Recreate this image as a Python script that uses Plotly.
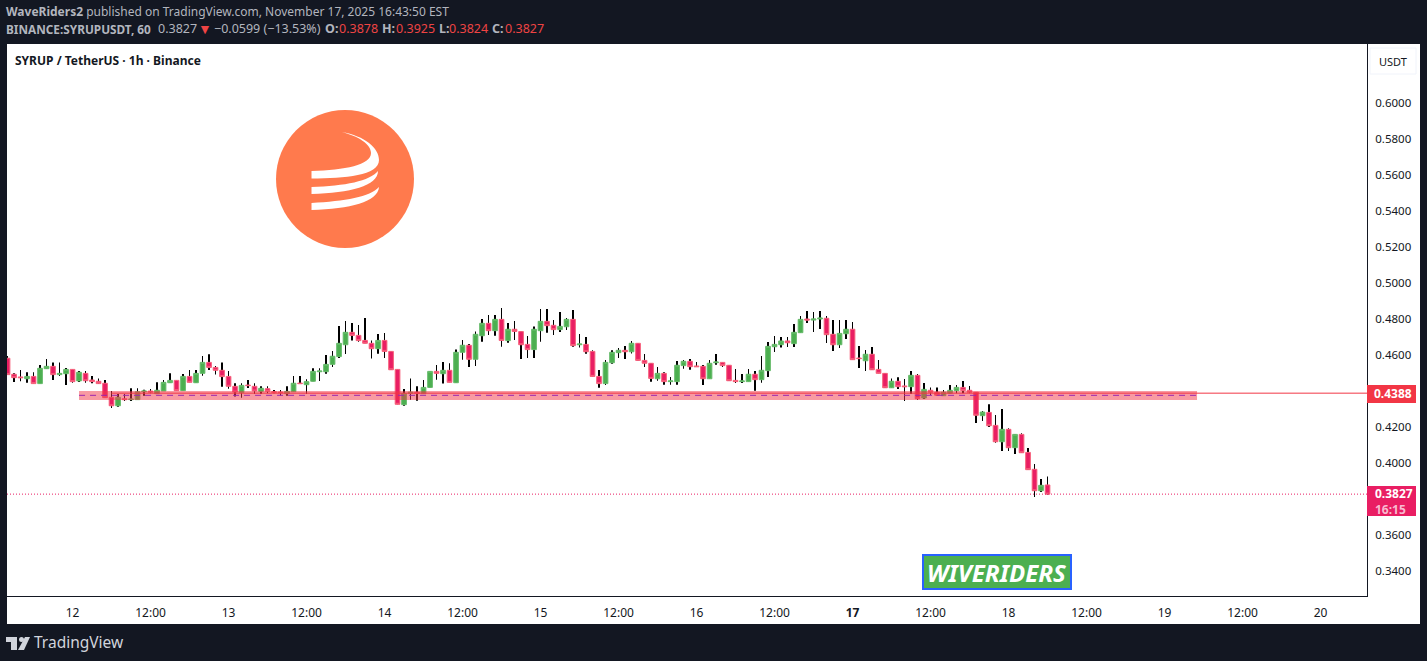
import pandas as pd
import plotly.graph_objects as go

# hourly candles, first one is Nov 11 14:00
start_time = "2025-11-11 14:00"

opens = [
    .4582, .4493, .4478, .4468, .4481, .4441, .4524, .4537, .4491, .4496,
    .4520, .4456, .4498, .4461, .4454, .4443, .4365, .4318, .4357, .4352,
    .4352, .4396, .4400, .4385, .4400, .4446, .4459, .4402, .4481, .4446,
    .4498, .4559, .4531, .4515, .4481, .4426, .4391, .4433, .4426, .4398,
    .4413, .4396, .4394, .4385, .4396, .4444, .4435, .4454, .4507, .4507,
    .4548, .4591, .4657, .4726, .4709, .4681, .4665, .4635, .4681, .4620,
    .4520, .4324, .4387, .4393, .4385, .4420, .4509, .4496, .4515, .4446,
    .4615, .4654, .4576, .4707, .4776, .4735, .4798, .4680, .4743, .4730,
    .4659, .4630, .4735, .4787, .4765, .4741, .4757, .4798, .4657, .4659,
    .4620, .4481, .4441, .4557, .4613, .4626, .4618, .4665, .4570, .4554,
    .4468, .4498, .4452, .4452, .4541, .4565, .4539, .4537, .4468, .4557,
    .4559, .4543, .4459, .4452, .4452, .4493, .4463, .4513, .4646, .4657,
    .4678, .4663, .4724, .4800, .4794, .4800, .4804, .4715, .4657, .4718,
    .4743, .4583, .4568, .4604, .4520, .4498, .4418, .4454, .4428, .4424,
    .4487, .4361, .4404, .4393, .4374, .4387, .4402, .4420, .4404, .4393,
    .4263, .4281, .4209, .4118, .4187, .4085, .4159, .4059, .3965, .3846,
    .3878,
]
highs = [
    .4594, .4498, .4517, .4504, .4504, .4544, .4578, .4559, .4559, .4528,
    .4520, .4511, .4511, .4483, .4470, .4461, .4400, .4383, .4383, .4415,
    .4415, .4407, .4411, .4448, .4461, .4498, .4459, .4494, .4517, .4517,
    .4594, .4604, .4539, .4559, .4511, .4443, .4443, .4461, .4443, .4426,
    .4426, .4406, .4406, .4426, .4483, .4483, .4465, .4526, .4526, .4600,
    .4622, .4761, .4789, .4778, .4767, .4805, .4681, .4717, .4722, .4620,
    .4520, .4411, .4470, .4426, .4461, .4509, .4544, .4561, .4554, .4631,
    .4683, .4661, .4731, .4800, .4822, .4822, .4861, .4778, .4789, .4730,
    .4705, .4759, .4855, .4855, .4794, .4839, .4805, .4850, .4717, .4700,
    .4626, .4517, .4572, .4626, .4639, .4650, .4678, .4665, .4605, .4554,
    .4533, .4504, .4478, .4567, .4572, .4578, .4561, .4544, .4572, .4605,
    .4559, .4543, .4522, .4494, .4522, .4511, .4594, .4672, .4705, .4700,
    .4700, .4772, .4817, .4844, .4839, .4844, .4817, .4794, .4794, .4794,
    .4783, .4650, .4628, .4644, .4572, .4498, .4470, .4476, .4467, .4511,
    .4494, .4444, .4420, .4420, .4406, .4433, .4433, .4456, .4428, .4393,
    .4289, .4326, .4267, .4300, .4193, .4159, .4165, .4083, .3994, .3911,
    .3925,
]
lows = [
    .4491, .4450, .4454, .4446, .4441, .4441, .4524, .4461, .4483, .4433,
    .4446, .4450, .4446, .4443, .4439, .4363, .4305, .4313, .4344, .4344,
    .4352, .4374, .4387, .4385, .4400, .4446, .4402, .4402, .4448, .4446,
    .4485, .4517, .4491, .4424, .4413, .4369, .4363, .4417, .4383, .4383,
    .4387, .4387, .4374, .4374, .4396, .4441, .4383, .4454, .4456, .4496,
    .4533, .4583, .4605, .4680, .4674, .4665, .4580, .4607, .4583, .4518,
    .4326, .4318, .4352, .4346, .4385, .4420, .4463, .4441, .4448, .4446,
    .4574, .4533, .4539, .4674, .4711, .4707, .4646, .4668, .4683, .4578,
    .4583, .4583, .4674, .4724, .4711, .4728, .4739, .4646, .4641, .4607,
    .4481, .4418, .4433, .4552, .4583, .4578, .4609, .4570, .4533, .4452,
    .4457, .4435, .4435, .4435, .4524, .4518, .4535, .4433, .4468, .4546,
    .4533, .4457, .4444, .4444, .4452, .4402, .4446, .4478, .4617, .4641,
    .4644, .4644, .4724, .4778, .4728, .4744, .4667, .4622, .4639, .4689,
    .4574, .4528, .4511, .4518, .4498, .4418, .4418, .4411, .4344, .4383,
    .4350, .4355, .4376, .4372, .4372, .4383, .4387, .4387, .4387, .4222,
    .4233, .4200, .4113, .4067, .4067, .4050, .4057, .3963, .3811, .3839,
    .3824,
]
closes = [
    .4491, .4474, .4474, .4481, .4441, .4526, .4537, .4491, .4498, .4520,
    .4452, .4504, .4457, .4452, .4441, .4363, .4318, .4365, .4352, .4355,
    .4396, .4400, .4394, .4404, .4448, .4459, .4402, .4481, .4448, .4498,
    .4559, .4531, .4515, .4480, .4426, .4394, .4431, .4430, .4400, .4415,
    .4398, .4393, .4391, .4398, .4443, .4441, .4452, .4509, .4511, .4548,
    .4593, .4665, .4726, .4709, .4680, .4665, .4635, .4681, .4620, .4518,
    .4326, .4387, .4393, .4387, .4420, .4509, .4498, .4515, .4448, .4615,
    .4654, .4576, .4715, .4776, .4735, .4798, .4681, .4743, .4731, .4657,
    .4630, .4743, .4787, .4763, .4741, .4759, .4798, .4652, .4661, .4618,
    .4481, .4441, .4559, .4615, .4626, .4618, .4665, .4570, .4554, .4470,
    .4498, .4452, .4456, .4543, .4565, .4535, .4535, .4468, .4554, .4561,
    .4541, .4457, .4452, .4456, .4493, .4463, .4515, .4648, .4659, .4678,
    .4668, .4726, .4798, .4794, .4800, .4805, .4713, .4657, .4720, .4743,
    .4574, .4580, .4604, .4518, .4498, .4418, .4454, .4424, .4424, .4487,
    .4357, .4409, .4393, .4376, .4393, .4404, .4420, .4402, .4393, .4265,
    .4283, .4207, .4118, .4187, .4085, .4159, .4057, .3963, .3846, .3876,
    .3827,
]

y_ticks = [0.34, 0.36, 0.40, 0.42, 0.46, 0.48, 0.50, 0.52, 0.54, 0.56, 0.58, 0.60]
x_tick_times = [
    "2025-11-12 00:00", "2025-11-12 12:00", "2025-11-13 00:00", "2025-11-13 12:00",
    "2025-11-14 00:00", "2025-11-14 12:00", "2025-11-15 00:00", "2025-11-15 12:00",
    "2025-11-16 00:00", "2025-11-16 12:00", "2025-11-17 00:00", "2025-11-17 12:00",
    "2025-11-18 00:00", "2025-11-18 12:00", "2025-11-19 00:00", "2025-11-19 12:00",
    "2025-11-20 00:00",
]
x_tick_labels = ["12", "12:00", "13", "12:00", "14", "12:00", "15", "12:00", "16", "12:00",
                 "<b>17</b>", "12:00", "18", "12:00", "19", "12:00", "20"]

level_price = 0.4388
level_mid = 0.4376
band_top = 0.4400
band_bottom = 0.4350
last_price = 0.3827

FONT = "Noto Sans"
BG = "#131722"
GREY = "#b2b5be"
RED = "#f23645"
VALUE_RED = "#ef4444"
PINK = "#e91e63"
UP = "#4caf50"

times = pd.date_range(start_time, periods=len(opens), freq="h")

# plot area in page pixels
L, R, T, B = 7, 1367, 44, 596


def px(x):
    return (x - L) / (R - L)


def py(y):
    return (B - y) / (B - T)


def path(points):
    # points are (command, x, y, x, y...) in page pixels
    out = ""
    for p in points:
        out += p[0]
        nums = p[1:]
        out += " ".join(f"{px(nums[i]):.5f},{py(nums[i + 1]):.5f}" for i in range(0, len(nums), 2)) + " "
    return out + "Z"


def rect(x0, y0, x1, y1, color, **kw):
    return dict(type="rect", xref="paper", yref="paper", x0=px(x0), x1=px(x1), y0=py(y0), y1=py(y1),
                fillcolor=color, line=dict(width=0), **kw)


def text(x, y, s, size=12, color="#131722", anchor="left", **kw):
    # annotations carry a 2px pad on the left
    if anchor == "left":
        x -= 2
    return dict(xref="paper", yref="paper", x=px(x), y=py(y), text=s, showarrow=False, xanchor=anchor,
                yanchor="middle", font=dict(family=FONT, size=size, color=color), **kw)


fig = go.Figure()

# wicks as thin bars, the bar layer sits under the candle bodies (scatter would go on top)
fig.add_trace(go.Bar(
    x=times,
    base=lows,
    y=[h - l for h, l in zip(highs, lows)],
    width=500000,
    marker=dict(color="#000000", line=dict(width=0)),
    hoverinfo="skip",
))

fig.add_trace(go.Candlestick(
    x=times,
    open=opens,
    close=closes,
    high=[max(o, c) for o, c in zip(opens, closes)],
    low=[min(o, c) for o, c in zip(opens, closes)],
    increasing=dict(line=dict(color="#66bb6a", width=1), fillcolor=UP),
    decreasing=dict(line=dict(color="#f7607a", width=1), fillcolor=PINK),
    whiskerwidth=0,
))

shapes = [
    # white price and time scale strips
    rect(L, B, 1420, 624, "#ffffff", layer="below"),
    rect(R, T, 1420, B, "#ffffff", layer="below"),
    # support zone
    dict(type="rect", xref="x", yref="y", x0="2025-11-12 01:00", x1="2025-11-19 05:00", y0=band_bottom, y1=band_top,
         fillcolor="rgba(242,54,69,0.5)", line=dict(width=0), layer="above"),
    dict(type="line", xref="x", yref="y", x0="2025-11-12 06:00", x1="2025-11-20 07:09", y0=level_price, y1=level_price,
         line=dict(color=RED, width=1), layer="above"),
    dict(type="line", xref="x", yref="y", x0="2025-11-12 01:00", x1="2025-11-19 05:00", y0=level_mid, y1=level_mid,
         line=dict(color="#9c27b0", width=1, dash="6px,5px"), layer="above"),
    dict(type="line", xref="x", yref="y", x0="2025-11-11 13:55", x1="2025-11-20 07:09", y0=last_price, y1=last_price,
         line=dict(color=PINK, width=1, dash="1px,2px"), layer="above"),
    # price labels on the scale
    rect(R, 385, 1416, 403, RED),
    rect(R, 486, 1416, 516, PINK),
    # USDT button outline
    dict(type="rect", xref="paper", yref="paper", x0=px(1370), x1=px(1416), y0=py(48), y1=py(74),
         fillcolor="#ffffff", line=dict(color="#f0f3fa", width=1)),
    # syrup logo
    dict(type="circle", xref="paper", yref="paper", x0=px(276), x1=px(414), y0=py(248), y1=py(110),
         fillcolor="#ff7a4d", line=dict(width=0)),
    dict(type="path", xref="paper", yref="paper", fillcolor="#ffffff", line=dict(width=0), path=path([
        ("M", 341.5, 132),
        ("C", 365, 136, 379, 148, 379, 160),
        ("C", 379, 176, 345, 178, 311.5, 178.5),
        ("L", 311.5, 171),
        ("C", 345, 170, 371, 165, 371, 153),
        ("C", 371, 144, 358, 136, 341.5, 132),
    ])),
    dict(type="path", xref="paper", yref="paper", fillcolor="#ffffff", line=dict(width=0), path=path([
        ("M", 311.5, 187),
        ("C", 345, 186, 370, 181, 378, 171),
        ("C", 378, 186, 350, 193, 311.5, 194),
    ])),
    dict(type="path", xref="paper", yref="paper", fillcolor="#ffffff", line=dict(width=0), path=path([
        ("M", 311.5, 203),
        ("C", 345, 201, 370, 197, 379, 187),
        ("C", 378, 202, 350, 209, 311.5, 210),
    ])),
    # wiveriders badge
    dict(type="rect", xref="paper", yref="paper", x0=px(923), x1=px(1071), y0=py(589), y1=py(555),
         fillcolor=UP, line=dict(color="#2962ff", width=2)),
    # tradingview mark
    dict(type="path", xref="paper", yref="paper", fillcolor="#d1d4dc", line=dict(width=0), path=path([
        ("M", 6, 637), ("L", 17, 637), ("L", 17, 650), ("L", 11, 650), ("L", 11, 642), ("L", 6, 642),
    ])),
    dict(type="circle", xref="paper", yref="paper", x0=px(19), x1=px(24), y0=py(642), y1=py(637),
         fillcolor="#d1d4dc", line=dict(width=0)),
    dict(type="path", xref="paper", yref="paper", fillcolor="#d1d4dc", line=dict(width=0), path=path([
        ("M", 25, 637), ("L", 30, 637), ("L", 24, 650), ("L", 18, 650),
    ])),
]

annotations = [
    text(6, 12, "<b>WaveRiders2</b> published on TradingView.com, November 17, 2025 16:43:50 EST", color=GREY),
    text(6, 29, "<b>BINANCE:SYRUPUSDT, 60</b>", color=GREY, size=11.8),
    text(158, 29, "0.3827", color=GREY, size=12.5),
    text(198, 29, "▼", color=VALUE_RED, size=14),
    text(214, 29, "−0.0599 (−13.53%)", color=GREY, size=12.5),
    text(325, 29, "<b>O:</b>", color=GREY, size=12.5),
    text(339, 29, "0.3878", color=VALUE_RED, size=12.5),
    text(382, 29, "<b>H:</b>", color=GREY, size=12.5),
    text(396, 29, "0.3925", color=VALUE_RED, size=12.5),
    text(439, 29, "<b>L:</b>", color=GREY, size=12.5),
    text(449, 29, "0.3824", color=VALUE_RED, size=12.5),
    text(492, 29, "<b>C:</b>", color=GREY, size=12.5),
    text(505, 29, "0.3827", color=VALUE_RED, size=12.5),
    text(15, 60, "<b>SYRUP / TetherUS · 1h · Binance</b>", color="#131722"),
    text(1393, 61, "USDT", anchor="center", size=11),
    text(1393, 394, "<b>0.4388</b>", anchor="center", color="#ffffff"),
    text(1375, 501, "<b>0.3827</b><br><span style='color:#f8bbd0'><b>16:15</b></span>", color="#ffffff", align="left"),
    text(997, 572, "<b><i>WIVERIDERS</i></b>", anchor="center", color="#ffffff", size=24),
    text(34, 642, "TradingView", color="#d1d4dc", size=15.5),
]

fig.update_layout(
    width=1427,
    height=661,
    margin=dict(l=L, r=1427 - R, t=T, b=661 - B),
    paper_bgcolor=BG,
    plot_bgcolor="#ffffff",
    showlegend=False,
    shapes=shapes,
    annotations=annotations,
    font=dict(family=FONT, size=12, color="#131722"),
    boxgap=0.28,
    boxgroupgap=0,
)
fig.update_xaxes(
    type="date",
    range=["2025-11-11 13:55", "2025-11-20 07:09"],
    tickmode="array",
    tickvals=x_tick_times,
    ticktext=x_tick_labels,
    tickangle=0,
    ticks="",
    showgrid=False,
    zeroline=False,
    showline=True,
    linecolor="#131722",
    linewidth=1,
    rangeslider=dict(visible=False),
    ticklabelstandoff=6,
)
fig.update_yaxes(
    side="right",
    range=[0.32611, 0.63278],
    tickmode="array",
    tickvals=y_ticks,
    tickformat=".4f",
    ticks="",
    showgrid=False,
    zeroline=False,
    showline=True,
    linecolor="#131722",
    linewidth=1,
    ticklabelstandoff=5,
    tickfont=dict(size=11.5),
)

fig.write_html("out.html", config=dict(displayModeBar=False),
               post_script="document.body.style.margin='0';document.body.style.background='#131722';")
